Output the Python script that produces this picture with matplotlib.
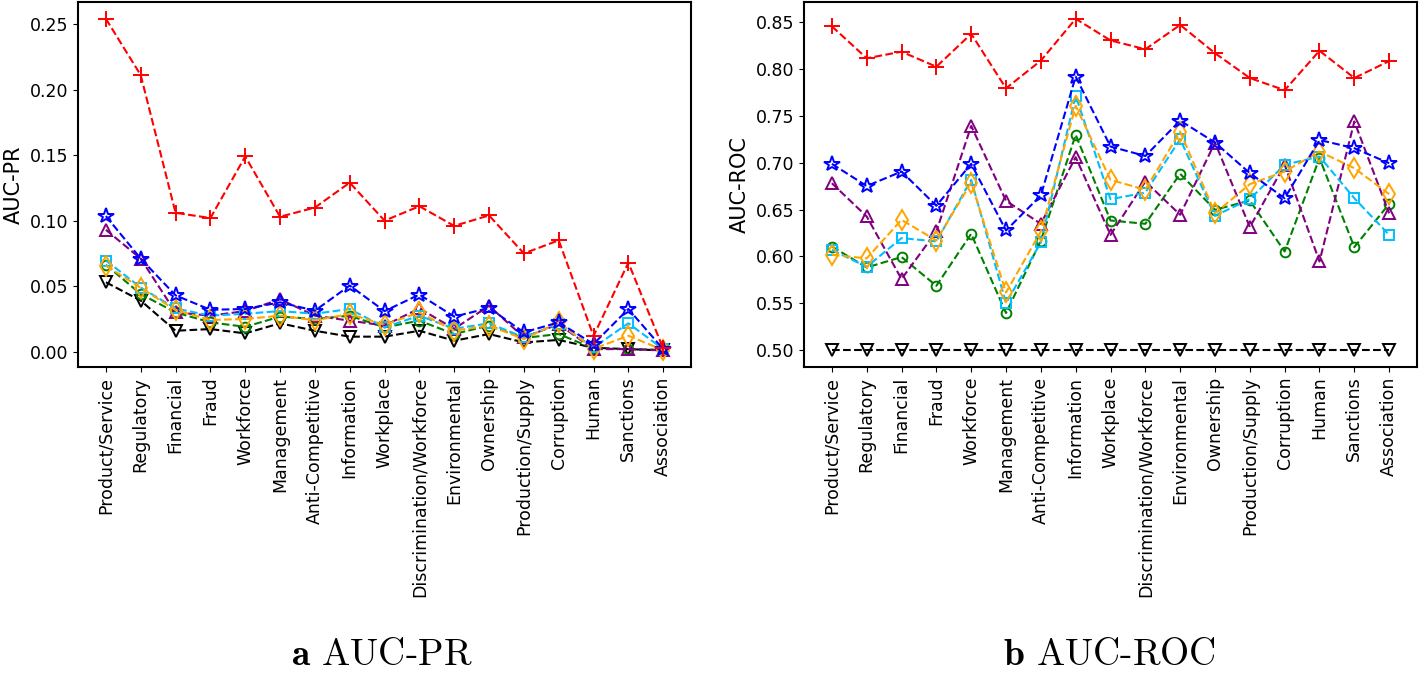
import matplotlib
matplotlib.use("Agg")
import matplotlib.pyplot as plt

categories = ['Product/Service', 'Regulatory', 'Financial', 'Fraud', 'Workforce',
              'Management', 'Anti-Competitive', 'Information', 'Workplace',
              'Discrimination/Workforce', 'Environmental', 'Ownership',
              'Production/Supply', 'Corruption', 'Human', 'Sanctions', 'Association']

# AUC-PR values per method
pr_red = [0.254, 0.211, 0.106, 0.102, 0.149, 0.103, 0.110, 0.129, 0.100, 0.111,
          0.096, 0.104, 0.075, 0.085, 0.012, 0.068, 0.0025]
pr_blue = [0.1035, 0.071, 0.043, 0.032, 0.0326, 0.0377, 0.0313, 0.0505, 0.031, 0.0436,
           0.0268, 0.0334, 0.0148, 0.0224, 0.0059, 0.0326, 0.002]
pr_purple = [0.093, 0.071, 0.030, 0.0275, 0.031, 0.040, 0.0275, 0.0237, 0.020, 0.033,
             0.0175, 0.035, 0.011, 0.021, 0.002, 0.002, 0.001]
pr_cyan = [0.0696, 0.049, 0.033, 0.0275, 0.029, 0.031, 0.029, 0.0326, 0.0186, 0.0275,
           0.0175, 0.0217, 0.011, 0.0214, 0.0033, 0.0217, 0.002]
pr_orange = [0.0657, 0.0487, 0.0318, 0.0242, 0.025, 0.0275, 0.024, 0.0288, 0.0206, 0.030,
             0.016, 0.020, 0.0097, 0.0224, 0.0023, 0.0122, 0.0013]
pr_green = [0.0663, 0.044, 0.030, 0.0224, 0.019, 0.0268, 0.025, 0.0275, 0.0186, 0.0237,
            0.0135, 0.020, 0.0105, 0.0135, 0.0025, 0.002, 0.0015]
pr_black = [0.053, 0.039, 0.016, 0.0173, 0.014, 0.0217, 0.016, 0.0115, 0.0115, 0.016,
            0.0084, 0.0135, 0.0071, 0.009, 0.003, 0.002, 0.001]

# AUC-ROC values per method
roc_red = [0.845, 0.811, 0.818, 0.802, 0.837, 0.779, 0.8085, 0.853, 0.830, 0.8206,
           0.8465, 0.8164, 0.790, 0.777, 0.819, 0.790, 0.808]
roc_blue = [0.6986, 0.675, 0.6904, 0.654, 0.6986, 0.6277, 0.665, 0.7915, 0.717, 0.707,
            0.7447, 0.7213, 0.6887, 0.662, 0.724, 0.7153, 0.6993]
roc_purple = [0.678, 0.6426, 0.576, 0.6266, 0.739, 0.6593, 0.6348, 0.7057, 0.623, 0.6798,
              0.6444, 0.7213, 0.6313, 0.6976, 0.5947, 0.7437, 0.646]
roc_cyan = [0.607, 0.589, 0.6196, 0.616, 0.6816, 0.5504, 0.615, 0.771, 0.661, 0.668,
            0.7249, 0.6433, 0.661, 0.6976, 0.7064, 0.662, 0.623]
roc_orange = [0.6018, 0.598, 0.639, 0.617, 0.6787, 0.5617, 0.6266, 0.7603, 0.6816, 0.671,
              0.733, 0.646, 0.677, 0.6904, 0.7117, 0.694, 0.6664]
roc_green = [0.6106, 0.5883, 0.5994, 0.5688, 0.6241, 0.5398, 0.617, 0.7295, 0.6383, 0.6348,
             0.688, 0.6497, 0.6596, 0.6053, 0.7047, 0.610, 0.656]
roc_black = [0.5] * 17

styles = [
    ('black', 'v', 9),
    ('green', 'o', 7),
    ('purple', '^', 9),
    ('deepskyblue', 's', 7),
    ('orange', 'd', 10),
    ('blue', '*', 11.5),
    ('red', '+', 11),
]

plt.rcParams['mathtext.fontset'] = 'cm'

fig = plt.figure(figsize=(14.19, 6.78), dpi=100)
ax1 = fig.add_axes([0.055, 0.4587, 0.432, 0.538])
ax2 = fig.add_axes([0.5666, 0.4587, 0.432, 0.538])

x = list(range(len(categories)))
pr_series = [pr_black, pr_green, pr_purple, pr_cyan, pr_orange, pr_blue, pr_red]
roc_series = [roc_black, roc_green, roc_purple, roc_cyan, roc_orange, roc_blue, roc_red]

for ax, series, ylabel in [(ax1, pr_series, 'AUC-PR'), (ax2, roc_series, 'AUC-ROC')]:
    for values, (color, marker, ms) in zip(series, styles):
        ax.plot(x, values, linestyle='--', color=color, marker=marker, markersize=ms,
                markerfacecolor='none', markeredgewidth=1.4, linewidth=1.5)
    ax.set_xticks(x)
    ax.set_xticklabels(categories, rotation=90, fontsize=12.5)
    ax.tick_params(axis='y', labelsize=12.5)
    ax.set_ylabel(ylabel, fontsize=15)
    for s in ax.spines.values():
        s.set_linewidth(1.5)

ax1.set_yticks([0.0, 0.05, 0.10, 0.15, 0.20, 0.25])
ax2.set_yticks([0.50, 0.55, 0.60, 0.65, 0.70, 0.75, 0.80, 0.85])

fig.text(0.269, 0.034, r'$\mathbf{a}$ AUC-PR', family='cmr10', fontsize=27,
         ha='center', va='center')
fig.text(0.7816, 0.034, r'$\mathbf{b}$ AUC-ROC', family='cmr10', fontsize=27,
         ha='center', va='center')

plt.savefig("out.png", dpi=100)
